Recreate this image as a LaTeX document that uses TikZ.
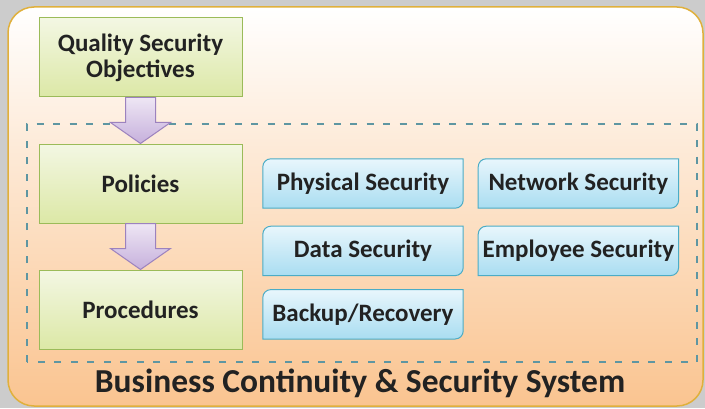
\documentclass[tikz,border=0pt]{standalone}
\usepackage{fontspec}
\setmainfont{Carlito}
\usepackage{xcolor}
\usepackage{tikz}
\usetikzlibrary{positioning,calc}
\definecolor{goldline}{HTML}{E0B03C}
\definecolor{peach}{HTML}{FAC490}
\definecolor{dashteal}{HTML}{5E96A2}
\definecolor{greenline}{HTML}{9BBB59}
\definecolor{greentop}{HTML}{F3F7E3}
\definecolor{greenbot}{HTML}{DCE8A6}
\definecolor{blueline}{HTML}{4BACC6}
\definecolor{bluetop}{HTML}{E8F6FC}
\definecolor{bluebot}{HTML}{A9DDF1}
\definecolor{purpline}{HTML}{9C82BE}
\definecolor{purptop}{HTML}{EEE6F4}
\definecolor{purpbot}{HTML}{C6B0DC}
\definecolor{inktext}{HTML}{222222}
\tikzset{
  stage/.style={draw=greenline, line width=1pt, top color=greentop, bottom color=greenbot,
    minimum width=203pt, minimum height=79pt, align=center, text=inktext,
    font=\fontsize{25}{26}\selectfont\bfseries},
  area/.style={draw=none, minimum width=200pt, minimum height=49pt, inner sep=0pt,
    text=inktext, font=\fontsize{25}{26}\selectfont\bfseries},
  areashape/.style={draw=blueline, line width=1pt, top color=bluetop, bottom color=bluebot},
  blockarr/.style={draw=purpline, line width=1pt, top color=purptop, bottom color=purpbot},
}
% box with top-left and bottom-right corners rounded
\newcommand{\areabox}[1]{%
  \shadedraw[areashape] (#1.north east) -- ([yshift=8pt]#1.south east)
    arc[start angle=0, end angle=-90, radius=8pt] -- (#1.south west)
    -- ([yshift=-8pt]#1.north west) arc[start angle=180, end angle=90, radius=8pt] -- cycle;}
\newcommand{\downarr}[2]{%
  \shadedraw[blockarr] ($(#1.south)+(-15,0)$) -- ($(#1.south)+(15,0)$) -- ($(#2.north)+(15,21)$)
    -- ($(#2.north)+(30,21)$) -- (#2.north) -- ($(#2.north)+(-30,21)$)
    -- ($(#2.north)+(-15,21)$) -- cycle;}

\begin{document}
\begin{tikzpicture}[x=1pt, y=1pt]
\useasboundingbox (0,0) rectangle (705,408);
\fill[gray!40] (0,0) rectangle (705,408);
% outer system box
\shadedraw[draw=goldline, line width=1.5pt, top color=white, bottom color=peach,
  rounded corners=26pt] (8,2) rectangle (703,401);
\node[text=inktext, font=\fontsize{33.5}{36}\selectfont\bfseries] (title) at (360,25)
  {Business Continuity \& Security System};
\draw[dashteal, line width=1.4pt, dash pattern=on 7pt off 9.5pt] (27,46) rectangle (697,284);
% stages
\node[stage] (qso) at (140.5,350.5) {Quality Security\\Objectives};
\node[stage, below=46pt of qso] (pol) {Policies};
\node[stage, below=46pt of pol] (proc) {Procedures};
\downarr{qso}{pol}
\downarr{pol}{proc}
% security areas
\node[area] (phys) at (363,224.5) {};
\node[area, right=15pt of phys] (net) {};
\node[area, below=18pt of phys] (data) {};
\node[area, right=15pt of data] (emp) {};
\node[area, below=14pt of data] (back) {};
\foreach \n in {phys,net,data,emp,back}{\areabox{\n}}
\node[area] at (phys) {Physical Security};
\node[area] at (net) {Network Security};
\node[area] at (data) {Data Security};
\node[area] at (emp) {Employee Security};
\node[area] at (back) {Backup/Recovery};
\end{tikzpicture}
\end{document}
